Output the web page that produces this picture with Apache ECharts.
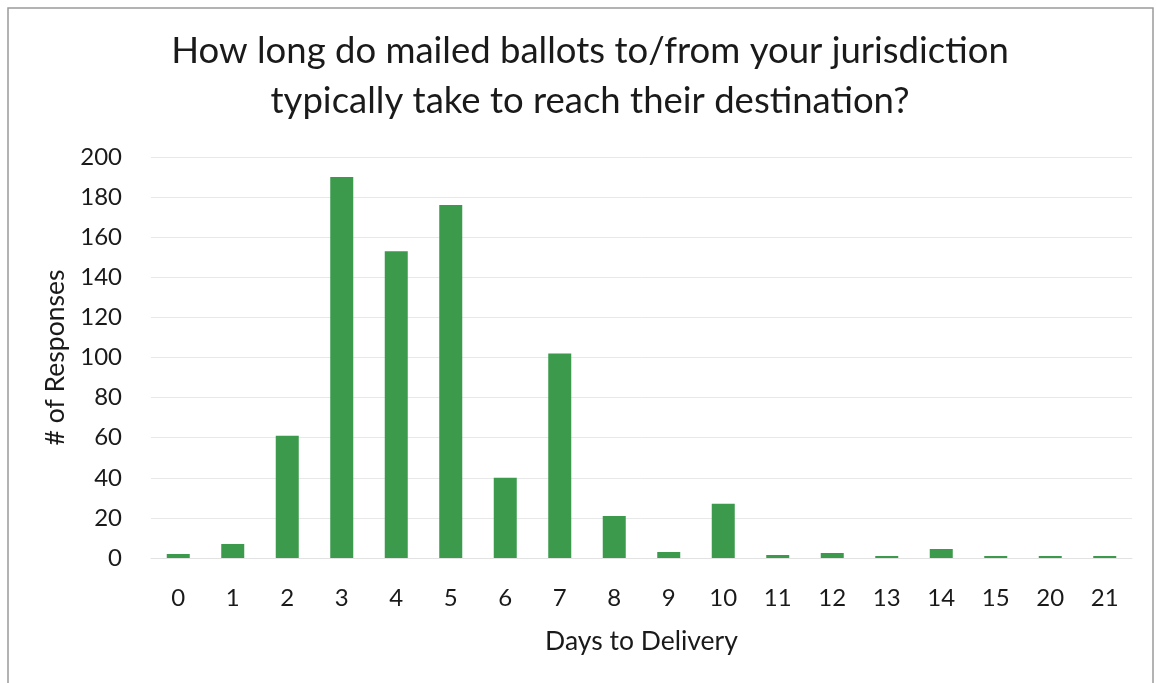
<html>
<head>
<meta charset="utf-8" />
<script src="https://cdn.jsdelivr.net/npm/echarts@6/dist/echarts.min.js"></script>
<style>
  body { margin: 0; background: #fff; }
  #chart { width: 1157px; height: 683px; }
</style>
</head>
<body>
<div id="chart"></div>
<script type="text/javascript">
    var days = ['0', '1', '2', '3', '4', '5', '6', '7', '8', '9', '10', '11', '12', '13', '14', '15', '20', '21'];
    var responses = [2, 7, 61, 190, 153, 176, 40, 102, 21, 3, 27, 1.5, 2.5, 1, 4.5, 1, 1, 1];
    var yTicks = [0, 200, 20];

    var chart = echarts.init(document.getElementById('chart'));
    var font = 'Lato, "Open Sans", sans-serif';
    var option = {
        backgroundColor: '#fff',
        graphic: [{
            type: 'rect',
            shape: { x: 8, y: 8, width: 1145, height: 680 },
            style: { fill: 'none', stroke: '#9a9a9a', lineWidth: 1.5 }
        }],
        title: {
            text: 'How long do mailed ballots to/from your jurisdiction\ntypically take to reach their destination?',
            left: 585,
            top: 21,
            textAlign: 'center',
            textStyle: {
                fontFamily: font,
                fontWeight: 'normal',
                fontSize: 36.5,
                lineHeight: 50,
                color: '#1a1a1a'
            }
        },
        grid: { left: 151, right: 25, top: 157, bottom: 125 },
        xAxis: {
            type: 'category',
            data: days,
            name: 'Days to Delivery',
            nameLocation: 'middle',
            nameGap: 70,
            nameTextStyle: { fontFamily: font, fontSize: 26.5, color: '#1a1a1a' },
            axisLine: { show: true, lineStyle: { color: '#e2e2e2' } },
            axisTick: { show: false },
            axisLabel: { fontFamily: font, fontSize: 24, color: '#1a1a1a', margin: 28 }
        },
        yAxis: {
            type: 'value',
            min: yTicks[0],
            max: yTicks[1],
            interval: yTicks[2],
            name: '# of Responses',
            nameLocation: 'middle',
            nameGap: 79,
            nameTextStyle: { fontFamily: font, fontSize: 26.5, color: '#1a1a1a' },
            axisLine: { show: false },
            axisTick: { show: false },
            axisLabel: { fontFamily: font, fontSize: 24, color: '#1a1a1a', margin: 29 },
            splitLine: { lineStyle: { color: '#e8e8e8' } }
        },
        series: [{
            type: 'bar',
            data: responses,
            barWidth: 23,
            itemStyle: { color: '#3b9a4b' }
        }]
    };
    chart.setOption(option);
</script>
</body>
</html>
